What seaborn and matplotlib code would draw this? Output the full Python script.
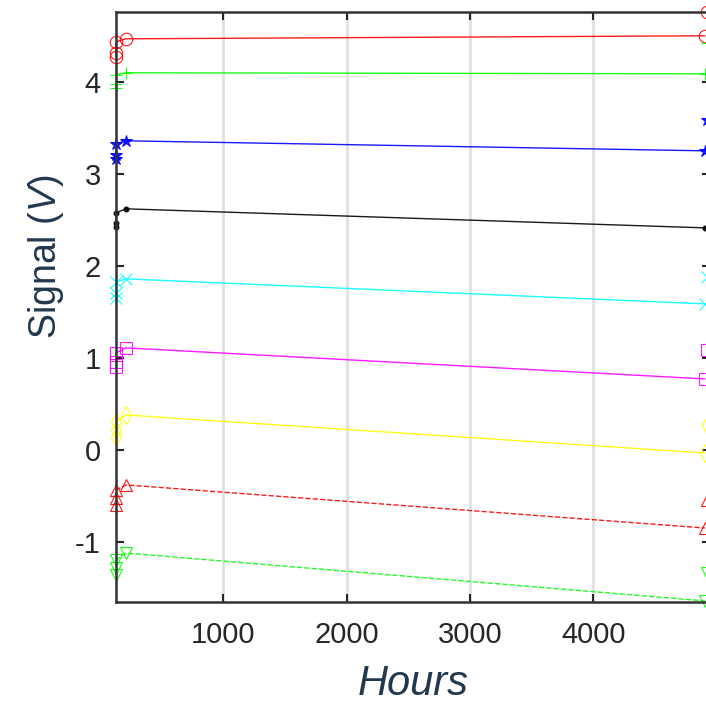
import numpy as np
import pandas as pd
import matplotlib
matplotlib.use("Agg")
import matplotlib.pyplot as plt
import seaborn as sns

# ---- data ----
hours = [130, 130, 130, 211, 4905]
hours_next = [4925]

s1_red_o = [4.27, 4.315, 4.435, 4.467, 4.50]
s2_green_plus = [3.935, 3.978, 4.076, 4.098, 4.087]
s3_blue_star = [3.163, 3.207, 3.326, 3.359, 3.25]
s4_black_dot = [2.424, 2.467, 2.576, 2.62, 2.413]
s5_cyan_x = [1.652, 1.707, 1.826, 1.859, 1.587]
s6_magenta_sq = [0.902, 0.957, 1.054, 1.109, 0.772]
s7_yellow_d = [0.141, 0.217, 0.304, 0.380, -0.033]
s8_red_tri = [-0.598, -0.522, -0.435, -0.380, -0.848]
s9_green_tri = [-1.359, -1.283, -1.196, -1.12, -1.64]

next_vals = [4.76, 4.42, 3.587, None, 1.88, 1.087, 0.272, -0.543, -1.337]

series = [s1_red_o, s2_green_plus, s3_blue_star, s4_black_dot, s5_cyan_x,
          s6_magenta_sq, s7_yellow_d, s8_red_tri, s9_green_tri]
colors = ["#ff0000", "#00ff00", "#0000ff", "#000000", "#00ffff",
          "#ff00ff", "#ffff00", "#ff0000", "#00ff00"]
markers = ["o", "+", "*", ".", "x", "s", "d", "^", "v"]
styles = ["-", "-", "-", "-", "-", "-", "-", "--", "--"]

x_ticks = [1000, 2000, 3000, 4000]
y_ticks = [-1, 0, 1, 2, 3, 4]

sns.set_theme(style="white")
plt.rcParams['font.family'] = ['Liberation Sans', 'DejaVu Sans']
plt.rcParams['mathtext.fontset'] = 'custom'
plt.rcParams['mathtext.rm'] = 'Liberation Sans'
plt.rcParams['mathtext.it'] = 'Liberation Sans:italic'

fig = plt.figure(figsize=(7.06, 7.06), dpi=100)
ax = fig.add_axes([0.1643, 0.1473, 0.842, 0.835])


def mfc(m, c):
    return c if m in ("+", "x", "*", ".") else "none"


for i, (vals, c, m, ls) in enumerate(zip(series, colors, markers, styles)):
    df = pd.DataFrame({"Hours": hours, "Signal": vals})
    sns.lineplot(data=df, x="Hours", y="Signal", ax=ax, color=c, marker=m,
                 linestyle=ls, linewidth=1.0, estimator=None, sort=False,
                 markersize=9 if m != "." else 7,
                 markerfacecolor=mfc(m, c),
                 markeredgecolor=c, markeredgewidth=0.8, clip_on=False,
                 alpha=0.9)
    if next_vals[i] is not None:
        dfn = pd.DataFrame({"Hours": hours_next, "Signal": [next_vals[i]]})
        sns.lineplot(data=dfn, x="Hours", y="Signal", ax=ax, color=c, marker=m,
                     linestyle="none", estimator=None, sort=False,
                     markersize=9, markerfacecolor=mfc(m, c),
                     markeredgecolor=c, markeredgewidth=0.8, clip_on=False,
                     alpha=0.9)

ax.set_xlim(130, 4950)
ax.set_ylim(-1.652, 4.753)
ax.set_xticks(x_ticks)
ax.set_yticks(y_ticks)
ax.set_xticklabels([str(t) for t in x_ticks])
ax.set_yticklabels([str(t) for t in y_ticks])
ax.grid(True, axis="x", color="#e0e0e0", linewidth=2)
ax.grid(False, axis="y")
ax.set_axisbelow(True)
ax.tick_params(axis="both", which="both", direction="in", length=6, width=1.5,
               top=True, right=True, bottom=True, left=True,
               labelsize=21, colors="#262626", pad=14)
ax.tick_params(axis="y", pad=11)
for sp in ax.spines.values():
    sp.set_color("#333333")
    sp.set_linewidth(1.8)
    sp.set_visible(True)

label_color = "#22384f"
ax.set_xlabel("Hours", fontsize=30, style="italic", color=label_color)
ax.xaxis.set_label_coords(0.5, -0.139)
ax.xaxis.label.set_va("center")
ax.set_ylabel(r"Signal ($\mathit{V}$)", fontsize=27, color=label_color)
ax.yaxis.label.set_va("center")
ax.yaxis.set_label_coords(-0.118, 0.585)

fig.savefig("out.png", dpi=100)
